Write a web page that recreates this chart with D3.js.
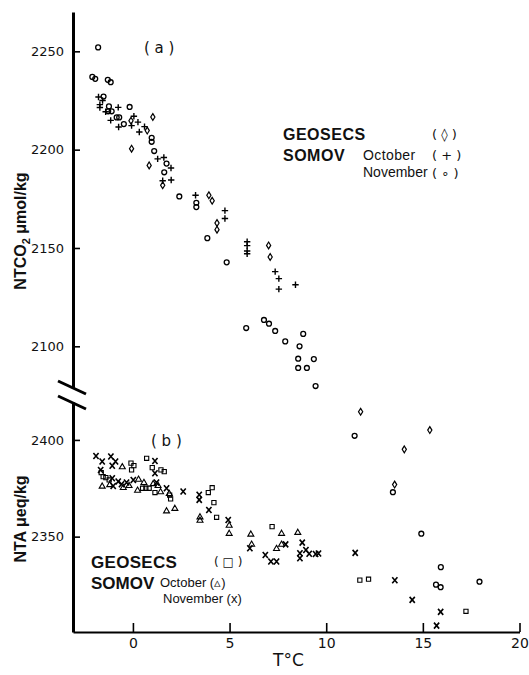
<!DOCTYPE html>
<html><head><meta charset="utf-8">
<script src="https://cdn.jsdelivr.net/npm/d3@7"></script>
<style>
body{margin:0;background:#fff;}
svg{display:block;}
.tick text{fill:#111;}
</style></head>
<body>
<div id="chart"></div>
<script>
// ---------- DATA ----------
// Panel (a): NTCO2 (µmol/kg) vs T (°C)
const geosecsA = [[-0.10,2214.7],[-0.07,2200.5],[0.74,2209.7],[1.03,2216.6],[0.84,2192],[1.54,2181.9],
  [3.93,2176.8],[4.10,2174],[4.35,2162.7],[4.35,2159.3],[7.02,2151.3],[7.10,2145.4],
  [11.78,2066.7],[15.36,2057.4],[14.04,2047.6],[13.54,2029.7]];
const somovOctA = [[-1.78,2226.8],[-1.57,2225],[-1.71,2222.9],[-1.71,2221.4],[-1.41,2219.3],[-0.76,2221.5],
  [-1.15,2214.9],[-0.74,2211.5],[0.05,2217],[-0.07,2212.2],[0.26,2214],[0.33,2209],[0.60,2211.7],
  [1.28,2195.3],[1.60,2196],[1.97,2190.7],[1.98,2184.6],[1.54,2184.2],[3.24,2176.8],[4.76,2169],[4.76,2165],
  [5.91,2153.2],[5.91,2151.2],[5.91,2148.5],[5.91,2147.1],[7.36,2138],[7.55,2134.4],[7.55,2129.1],[8.41,2131.3]];
const somovNovA = [[-1.80,2252],[-2.10,2237],[-1.95,2236],[-1.30,2235.5],[-1.15,2234.3],[-1.52,2227],
  [-1.24,2222],[-1.28,2219.5],[-1.10,2219.5],[-0.84,2216.4],[-0.71,2216.4],[-0.47,2213],[-0.17,2221.7],
  [0.97,2206],[0.97,2204],[1.10,2199.3],[1.74,2192.9],[1.62,2188.5],[2.40,2176.2],[3.28,2173],[3.28,2170.8],
  [3.85,2155],[4.85,2142.7],[5.86,2109.3],[6.78,2113.4],[7.04,2111.5],[7.36,2107.8],[7.88,2102.5],
  [8.81,2106.3],[8.62,2100],[8.55,2093.7],[9.36,2093.5],[8.55,2089],[9.00,2089],[9.45,2079.8],
  [11.47,2054.5],[13.45,2025.8],[14.92,2004.7],[15.93,1987.7],[15.68,1978.8],[15.92,1977.5],[17.93,1980.3]];
// Panel (b): NTA (µeq/kg) vs T (°C)
const geosecsB = [[-0.10,2388],[0.05,2386.7],[-0.07,2384.5],[0.71,2390.5],[1.00,2385.7],[1.45,2384.5],
  [1.62,2383.6],[0.50,2375],[0.67,2375],[0.84,2375],[1.14,2372.8],[1.90,2371.5],[1.95,2369.5],
  [3.90,2372.8],[4.10,2375.3],[4.19,2367.6],[4.33,2360],[7.20,2355.2],[11.74,2327.5],[12.19,2328],
  [17.23,2311.4],[-1.54,2381],[-1.23,2379.3],[-1.64,2383.1],[-1.40,2380.5]];
const somovOctB = [[-1.59,2376.2],[-0.55,2386.2],[-0.50,2375.5],[0.24,2374.1],[0.29,2379.8],[0.57,2378.1],
  [1.43,2373.3],[1.74,2363.4],[2.17,2364.7],[1.88,2372.4],[3.47,2360.3],[3.47,2358.6],[4.98,2356],
  [4.98,2351.8],[6.10,2351.4],[6.14,2346.2],[7.69,2351.8],[7.43,2344],[7.69,2346.2],[8.53,2352.3],
  [-1.20,2377],[-0.20,2376.5],[1.05,2377.5],[1.30,2376.5]];
const somovNovB = [[-1.91,2391.7],[-1.59,2388.8],[-1.14,2391.4],[-1.07,2386.6],[-0.90,2388.8],[-1.67,2384.5],
  [-1.07,2380.2],[-1.02,2376.2],[-0.76,2378.5],[-0.59,2377.1],[-0.33,2378],[0.02,2379.3],[1.14,2389.1],
  [1.14,2382.8],[1.22,2378],[1.74,2375],[2.60,2373.3],[3.43,2371.6],[3.43,2369],[3.93,2363.8],[4.93,2358.6],
  [6.05,2344],[6.85,2340.5],[7.14,2337.1],[7.43,2337.1],[7.90,2346],[8.76,2346.9],[8.64,2341.4],
  [8.64,2338.8],[8.95,2343.1],[9.12,2341.1],[9.45,2341],[9.60,2341.3],[11.50,2341.6],[13.55,2327.5],
  [14.45,2317.3],[15.92,2311.1],[15.71,2304]];
const xTicks = [0,5,10,15,20];
const yTicksA = [2100,2150,2200,2250];
const yTicksB = [2350,2400];

// ---------- CHART ----------
const W = 529, H = 675;
const svg = d3.select("#chart").append("svg").attr("width",W).attr("height",H)
  .style("background","#fff");

const x = d3.scaleLinear().domain([-3.1,20]).range([73,519.5]);
const yA = d3.scaleLinear().domain([2078.8,2270]).range([388,12]);
const yB = d3.scaleLinear().domain([2300.7,2419.6]).range([632,402]);

const tickFont = "'DejaVu Sans', sans-serif";

const gA = svg.append("g").attr("transform",`translate(${x(-3.1)},0)`)
  .call(d3.axisLeft(yA).tickValues(yTicksA).tickFormat(d3.format("d")).tickSizeInner(-7).tickSizeOuter(0).tickPadding(9));
const gB = svg.append("g").attr("transform",`translate(${x(-3.1)},0)`)
  .call(d3.axisLeft(yB).tickValues(yTicksB).tickFormat(d3.format("d")).tickSizeInner(-7).tickSizeOuter(0).tickPadding(9));
[gA,gB].forEach(g=>{
  g.select(".domain").attr("stroke","#000").attr("stroke-width",3);
  g.selectAll(".tick line").attr("stroke","#000").attr("stroke-width",1.6);
  g.selectAll(".tick text").attr("font-family",tickFont).attr("font-size",13);
});
const gX = svg.append("g").attr("transform",`translate(0,${yB(2300.7)})`)
  .call(d3.axisBottom(x).tickValues(xTicks).tickSizeInner(-9).tickSizeOuter(0).tickPadding(6));
gX.select(".domain").attr("stroke","#000").attr("stroke-width",2.2);
gX.selectAll(".tick line").attr("stroke","#000").attr("stroke-width",1.6);
gX.selectAll(".tick text").attr("font-family",tickFont).attr("font-size",14);

// axis break marks
const ax0 = x(-3.1);
[yA.range()[0]-7, yB.range()[1]-6].forEach(yy=>{
  svg.append("line").attr("x1",ax0-15).attr("y1",yy).attr("x2",ax0+13).attr("y2",yy+13)
    .attr("stroke","#000").attr("stroke-width",3);
});

// ---------- markers ----------
const mk = svg.append("g").attr("fill","none").attr("stroke","#000");
function place(sel, data, ys){ return sel.data(data).join("path")
  .attr("transform",d=>`translate(${x(d[0]).toFixed(2)},${ys(d[1]).toFixed(2)})`); }
place(mk.append("g").attr("stroke-width",1.3).selectAll("path"), somovNovA, yA)
  .attr("d", d3.symbol().type(d3.symbolCircle).size(19)());
place(mk.append("g").attr("stroke-width",1.4).selectAll("path"), somovOctA, yA)
  .attr("d","M-3.2,0H3.2M0,-3.2V3.2");
place(mk.append("g").attr("stroke-width",1.2).selectAll("path"), geosecsA, yA)
  .attr("d","M0,-3.4L2.1,0L0,3.4L-2.1,0Z");
place(mk.append("g").attr("stroke-width",1.1).selectAll("path"), geosecsB, yB)
  .attr("d","M-2.1,-2.1H2.1V2.1H-2.1Z");
place(mk.append("g").attr("stroke-width",1.1).selectAll("path"), somovOctB, yB)
  .attr("d","M0,-3L3,2.2L-3,2.2Z");
place(mk.append("g").attr("stroke-width",1.6).selectAll("path"), somovNovB, yB)
  .attr("d","M-2.6,-3L2.6,3M2.6,-3L-2.6,3");

// ---------- text ----------
const sans = "'Liberation Sans', Arial, sans-serif";
function txt(s,xx,yy,size,weight,extra){
  const t = svg.append("text").attr("x",xx).attr("y",yy).attr("font-family",sans)
    .attr("font-size",size).attr("font-weight",weight||"normal").attr("fill","#111").text(s);
  if(extra) extra(t);
  return t;
}
txt("( a )",144,53,15,"normal",t=>t.attr("font-family",tickFont));
txt("( b )",151,446,15,"normal",t=>t.attr("font-family",tickFont));

txt("GEOSECS",283,139.5,16,"bold",t=>t.attr("letter-spacing",0.5));
txt("SOMOV",283,160.5,16,"bold",t=>t.attr("letter-spacing",0.5));
txt("October",363,159.5,14,"normal",t=>t.attr("letter-spacing",0.4));
txt("November",363,177,14,"normal");
txt("( \u25CA )",432,139,13,"normal",t=>t.attr("font-family",tickFont));
txt("( + )",432,159.5,13,"normal",t=>t.attr("font-family",tickFont));
txt("( \u2218 )",432,177.5,13,"normal",t=>t.attr("font-family",tickFont));

txt("GEOSECS",91,567.5,17,"bold",t=>t.attr("letter-spacing",0.3));
txt("( \u25A1 )",214,566,12,"normal",t=>t.attr("font-family",tickFont));
txt("SOMOV",91,588.5,17,"bold");
txt("October (\u25B5)",160,587,13,"normal");
txt("November (x)",163,602.5,13,"normal");

txt("T\u00B0C",273,666,17,"normal",t=>t.attr("font-family",tickFont));
const yt1 = svg.append("text").attr("transform","translate(26,231) rotate(-90)")
  .attr("text-anchor","middle").attr("font-family",sans).attr("font-size",16).attr("fill","#111");
yt1.append("tspan").attr("font-weight","bold").text("NTCO");
yt1.append("tspan").attr("font-weight","bold").attr("font-size",11).attr("dy",4).text("2");
yt1.append("tspan").attr("dy",-4).attr("font-weight","bold").text("  \u03BCmol/kg");
const yt2 = svg.append("text").attr("transform","translate(26,519) rotate(-90)")
  .attr("text-anchor","middle").attr("font-family",sans).attr("font-size",16).attr("fill","#111");
yt2.append("tspan").attr("font-weight","bold").text("NTA ");
yt2.append("tspan").attr("font-weight","bold").text(" \u03BCeq/kg");
</script>
</body></html>
